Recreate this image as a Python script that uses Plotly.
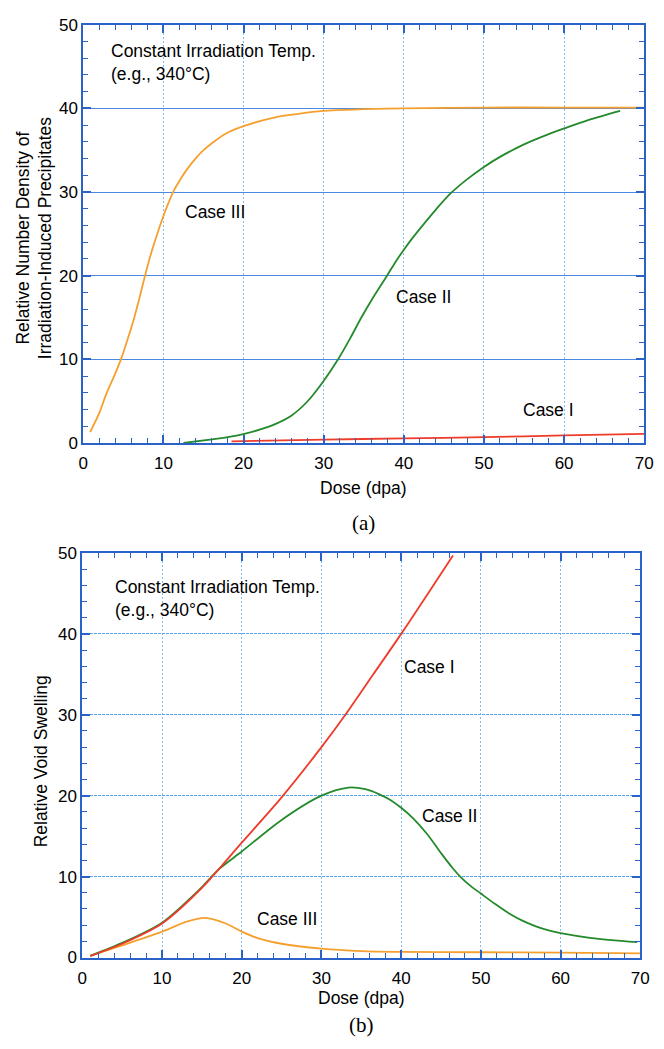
import plotly.graph_objects as go

# ---------------- Data: panel (a) precipitates ----------------
a_case3_dose = [0.85, 2.0, 2.8, 3.8, 4.7, 5.5, 6.3, 7.0, 7.7, 8.5, 9.3, 10.1, 11.2, 12.1, 13.0, 14.0, 15.0, 16.0, 17.8, 20.1, 23.8, 26.5, 29.9, 35, 40, 50, 60, 70]
a_case3_val = [1.3, 3.6, 5.7, 7.9, 10.0, 12.3, 14.8, 17.3, 20.0, 22.8, 25.2, 27.4, 30.0, 31.5, 32.8, 34.0, 35.0, 35.8, 37.0, 37.9, 38.9, 39.3, 39.7, 39.9, 40.0, 40.1, 40.1, 40.1]

a_case2_dose = [12.5, 15.8, 18.0, 20.1, 22.0, 23.8, 26.0, 27.9, 29.9, 31.8, 33.3, 34.7, 36.3, 37.9, 39.0, 40.0, 41.0, 42.0, 44.0, 45.8, 48.0, 50.0, 52.0, 55.0, 58.0, 60.0, 63.0, 67.0]
a_case2_val = [0.0, 0.4, 0.7, 1.1, 1.6, 2.2, 3.3, 4.9, 7.3, 10.0, 12.5, 15.0, 17.6, 20.0, 21.7, 23.1, 24.4, 25.6, 27.9, 29.8, 31.6, 33.0, 34.2, 35.7, 36.9, 37.6, 38.6, 39.7]

a_case1_dose = [18.5, 30, 40, 50, 60, 70]
a_case1_val = [0.2, 0.4, 0.55, 0.7, 0.9, 1.1]

# ---------------- Data: panel (b) void swelling ----------------
b_case1_dose = [1, 5, 10, 15, 20, 25, 30, 33, 36.5, 40, 46.5]
b_case1_val = [0.2, 1.7, 4.2, 8.6, 14.2, 19.8, 26.0, 30.0, 35.0, 40.0, 49.7]

b_case2_dose = [1, 5, 10, 15, 17, 20, 25, 30, 33.4, 35.5, 37.2, 38.6, 40, 41.5, 43.3, 45, 46.5, 47.4, 48.7, 50, 51.8, 53.6, 55.2, 56.9, 58.5, 60, 63.9, 69.6]
b_case2_val = [0.2, 1.8, 4.3, 8.7, 10.8, 13.1, 17.0, 20.0, 21.0, 20.8, 20.2, 19.5, 18.5, 17.2, 15.2, 12.9, 11.0, 10.0, 8.85, 7.9, 6.6, 5.4, 4.55, 3.85, 3.35, 3.0, 2.4, 1.9]

b_case3_dose = [1, 5, 10, 13, 15.4, 18, 20, 22, 25, 30, 35, 40, 50, 60, 70]
b_case3_val = [0.2, 1.5, 3.2, 4.4, 4.9, 4.2, 3.2, 2.4, 1.7, 1.1, 0.8, 0.7, 0.65, 0.6, 0.5]

x_ticks = [0, 10, 20, 30, 40, 50, 60, 70]
y_ticks = [0, 10, 20, 30, 40, 50]

ORANGE = "#f5a02e"
GREEN = "#248a2c"
RED = "#ef3b2a"
FRAME = "#2a62c8"
W, H = 664, 1049

fig = go.Figure()

def add(x, y, color, xa, ya):
    fig.add_trace(go.Scatter(x=x, y=y, mode="lines", line=dict(color=color, width=1.8, shape="spline", smoothing=0.8),
                             xaxis=xa, yaxis=ya, showlegend=False, hoverinfo="skip"))

add(a_case3_dose, a_case3_val, ORANGE, "x", "y")
add(a_case2_dose, a_case2_val, GREEN, "x", "y")
add(a_case1_dose, a_case1_val, RED, "x", "y")
add(b_case3_dose, b_case3_val, ORANGE, "x2", "y2")
add(b_case2_dose, b_case2_val, GREEN, "x2", "y2")
add(b_case1_dose, b_case1_val, RED, "x2", "y2")

tickfont = dict(family="Liberation Sans, Arial", size=17, color="black")

def xaxis(domain, anchor):
    return dict(domain=domain, anchor=anchor, range=[0, 70], tickvals=x_ticks, ticktext=[str(v) for v in x_ticks],
                showline=True, linecolor=FRAME, linewidth=2, mirror="allticks",
                ticks="inside", ticklen=8, tickwidth=1.5, tickcolor=FRAME, ticklabelstandoff=4,
                minor=dict(dtick=2, tick0=0, ticks="inside", ticklen=5, tickwidth=1.2, tickcolor=FRAME, showgrid=False),
                showgrid=True, gridcolor="#7ebdf0", griddash="2px,2px", gridwidth=1,
                zeroline=False, tickfont=tickfont, fixedrange=True)

def yaxis(domain, anchor, gridcolor, griddash):
    return dict(domain=domain, anchor=anchor, range=[0, 50], tickvals=y_ticks, ticktext=[str(v) for v in y_ticks],
                showline=True, linecolor=FRAME, linewidth=2, mirror="allticks",
                ticks="inside", ticklen=8, tickwidth=1.5, tickcolor=FRAME,
                minor=dict(dtick=2, tick0=0, ticks="inside", ticklen=5, tickwidth=1.2, tickcolor=FRAME, showgrid=False),
                showgrid=True, gridcolor=gridcolor, griddash=griddash, gridwidth=1,
                zeroline=False, tickfont=tickfont, fixedrange=True)

# panel geometry (pixels)
ax_l, ax_r, ay_t, ay_b = 80, 653, 16, 442
bx_l, bx_r, by_t, by_b = 79, 649, 554, 966

fig.update_layout(
    width=W, height=H, margin=dict(l=0, r=0, t=0, b=0),
    paper_bgcolor="white", plot_bgcolor="white",
    xaxis=xaxis([ax_l / W, ax_r / W], "y"),
    yaxis=yaxis([1 - ay_b / H, 1 - ay_t / H], "x", "#4a88e2", "solid"),
    xaxis2=xaxis([bx_l / W, bx_r / W], "y2"),
    yaxis2=yaxis([1 - by_b / H, 1 - by_t / H], "x2", "#5aa6ee", "3px,1px"),
)

txt = dict(family="Liberation Sans, Arial", size=17.5, color="black")
ann = []
# In-plot text panel (a)
ann.append(dict(x=3.2, y=45.5, xref="x", yref="y", text="Constant Irradiation Temp.<br>(e.g., 340°C)",
                showarrow=False, xanchor="left", yanchor="middle", align="left", font=txt))
ann.append(dict(x=16.4, y=27.6, xref="x", yref="y", text="Case III", showarrow=False, font=txt))
ann.append(dict(x=42.4, y=17.5, xref="x", yref="y", text="Case II", showarrow=False, font=txt))
ann.append(dict(x=58.0, y=4.0, xref="x", yref="y", text="Case I", showarrow=False, font=txt))
# In-plot text panel (b)
ann.append(dict(x=3.8, y=44.4, xref="x2", yref="y2", text="Constant Irradiation Temp.<br>(e.g., 340°C)",
                showarrow=False, xanchor="left", yanchor="middle", align="left", font=txt))
ann.append(dict(x=43.5, y=35.9, xref="x2", yref="y2", text="Case I", showarrow=False, font=txt))
ann.append(dict(x=46.0, y=17.5, xref="x2", yref="y2", text="Case II", showarrow=False, font=txt))
ann.append(dict(x=25.7, y=4.7, xref="x2", yref="y2", text="Case III", showarrow=False, font=txt))

# Axis titles
ttl = dict(family="Liberation Sans, Arial", size=17.5, color="black")
ann.append(dict(x=366 / W, y=1 - 488 / H, xref="paper", yref="paper", text="Dose (dpa)", showarrow=False,
                xanchor="center", yanchor="middle", font=ttl))
ann.append(dict(x=364 / W, y=1 - 1007 / H, xref="paper", yref="paper", text="Dose (dpa)", showarrow=False,
                xanchor="center", yanchor="middle", font=ttl))
ann.append(dict(x=30 / W, y=1 - 233 / H, xref="paper", yref="paper",
                text="Relative Number Density of<br>Irradiation-Induced Precipitates", showarrow=False,
                textangle=-90, xanchor="center", yanchor="middle", font=ttl))
ann.append(dict(x=37 / W, y=1 - 766 / H, xref="paper", yref="paper", text="Relative Void Swelling",
                showarrow=False, textangle=-90, xanchor="center", yanchor="middle", font=ttl))
# Panel captions
cap = dict(family="Liberation Serif, Times New Roman", size=21, color="black")
ann.append(dict(x=366 / W, y=1 - 523 / H, xref="paper", yref="paper", text="(a)", showarrow=False,
                xanchor="center", yanchor="middle", font=cap))
ann.append(dict(x=364 / W, y=1 - 1035 / H, xref="paper", yref="paper", text="(b)", showarrow=False,
                xanchor="center", yanchor="middle", font=cap))

fig.update_layout(annotations=ann)
fig.write_html("out.html")
